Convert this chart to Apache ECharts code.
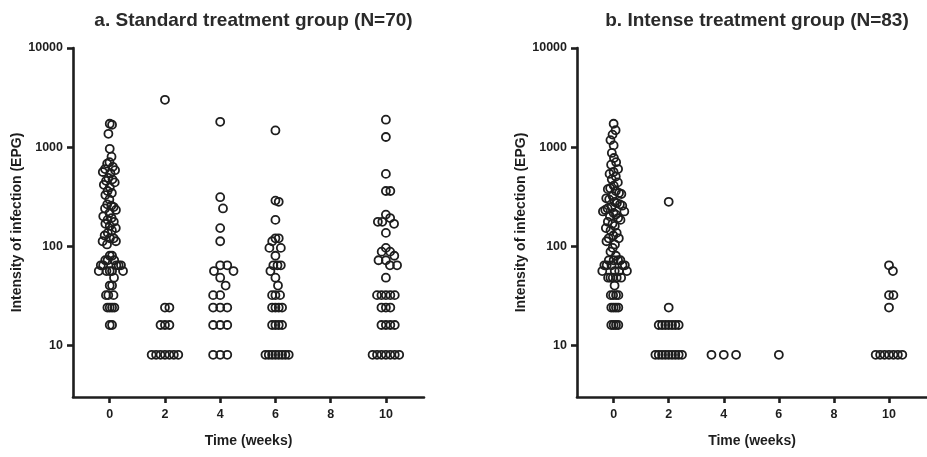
<!DOCTYPE html>
<html>
<head>
<meta charset="utf-8">
<script src="https://cdn.jsdelivr.net/npm/echarts@6/dist/echarts.min.js"></script>
<style>
  html, body { margin: 0; padding: 0; background: #fff; }
  #chart { width: 927px; height: 457px; }
</style>
</head>
<body>
<div id="chart"></div>
<script>
// Follow-up visits (weeks) and y-axis tick values
const weeks = [0, 2, 4, 6, 8, 10];
const yTicks = [10, 100, 1000, 10000];

const titleStandard = 'a. Standard treatment group (N=70)';
const titleIntense = 'b. Intense treatment group (N=83)';
const xName = 'Time (weeks)';
const yName = 'Intensity of infection (EPG)';

// Standard treatment group: eggs per gram of stool, one entry per positive participant
const stdWeek0 = [
  1720, 1680, 1360, 960, 800, 704, 680, 632, 600, 584, 560, 544,
  488, 472, 456, 440, 416, 392, 360, 344, 328, 296, 264, 256, 248, 240, 232,
  216, 200, 192, 184, 176, 168, 160, 152, 144, 136, 128, 120, 120, 112, 112, 104,
  80, 80, 72, 72, 72, 64, 64, 64, 64, 64, 56, 56, 56, 56, 56, 48, 40, 40,
  32, 32, 32, 24, 24, 24, 24, 16, 16
];
const stdWeek2 = [3000, 24, 24, 16, 16, 16, 8, 8, 8, 8, 8, 8, 8];
const stdWeek4 = [1800, 312, 240, 152, 112, 64, 64, 56, 56, 48, 40, 32, 32,
  24, 24, 24, 16, 16, 16, 8, 8, 8];
const stdWeek6 = [1472, 288, 280, 184, 120, 120, 112, 96, 96, 80, 64, 64, 64, 56, 48, 40,
  32, 32, 32, 24, 24, 24, 24, 16, 16, 16, 16, 8, 8, 8, 8, 8, 8, 8, 8];
const stdWeek8 = [];
const stdWeek10 = [1888, 1264, 536, 360, 360, 208, 192, 176, 176, 168, 136, 96, 88, 88, 80,
  72, 72, 64, 64, 48, 32, 32, 32, 32, 32, 24, 24, 24, 16, 16, 16, 16, 8, 8, 8, 8, 8, 8, 8];

// Intense treatment group
const intWeek0 = [
  1720, 1480, 1336, 1176, 1040, 872, 776, 704, 664, 600, 560, 536, 504, 472, 440,
  408, 384, 376, 360, 344, 336, 320, 304, 296, 280, 272, 264, 256, 248, 240,
  232, 224, 224, 216, 208, 200, 192, 184, 176, 168, 160, 152, 144, 136, 128,
  120, 120, 112, 104,
  96, 88, 80, 72, 72, 72, 72, 64, 64, 64, 64, 64, 56, 56, 56, 56,
  48, 48, 48, 48, 48, 40, 32, 32, 32, 32, 24, 24, 24, 24, 16, 16, 16, 16
];
const intWeek2 = [280, 24, 16, 16, 16, 16, 16, 16, 16, 8, 8, 8, 8, 8, 8, 8, 8, 8];
const intWeek4 = [8, 8, 8];
const intWeek6 = [8];
const intWeek8 = [];
const intWeek10 = [64, 56, 32, 32, 24, 8, 8, 8, 8, 8, 8, 8];

const stdGroups = [stdWeek0, stdWeek2, stdWeek4, stdWeek6, stdWeek8, stdWeek10];
const intGroups = [intWeek0, intWeek2, intWeek4, intWeek6, intWeek8, intWeek10];

// Plot geometry
const X_MIN = -1.33, X_MAX = 11.38;
const Y_MIN = 3, Y_MAX = 10000;
const GRID_TOP = 48, GRID_H = 349;
const GRIDS = [
  { left: 73, top: GRID_TOP, width: 351, height: GRID_H },
  { left: 577, top: GRID_TOP, width: 350, height: GRID_H }
];
const INK = '#1e1e1e';
const FONT = '"Liberation Sans", Arial, sans-serif';

// Beeswarm layout in pixel space: each point takes the free slot nearest the
// column centre, then the column is squeezed to a fixed maximum half-width.
const DOT = 12.3;     // spacing between neighbouring dots before squeezing
const HALF_W = 13.3;  // maximum half-width of a column, px
function swarmOffsets(values, pxPerDecade) {
  const pts = values.map(v => ({ v, y: Math.log10(v) * pxPerDecade, x: 0 }));
  const order = pts.slice().sort((a, b) => b.v - a.v);
  const placed = [];
  for (const p of order) {
    const cands = [0];
    for (const q of placed) {
      const dy = Math.abs(p.y - q.y);
      if (dy < DOT) {
        const dx = Math.sqrt(DOT * DOT - dy * dy);
        cands.push(q.x + dx, q.x - dx);
      }
    }
    cands.sort((a, b) => (Math.abs(a) - Math.abs(b)) || (b - a));
    for (const c of cands) {
      const ok = placed.every(q => (c - q.x) ** 2 + (p.y - q.y) ** 2 >= DOT * DOT - 1e-6);
      if (ok) { p.x = c; break; }
    }
    placed.push(p);
  }
  const maxAbs = Math.max(0, ...pts.map(p => Math.abs(p.x)));
  const k = maxAbs > HALF_W ? HALF_W / maxAbs : 1;
  return pts.map(p => p.x * k);
}

function buildData(groups, grid) {
  const pxPerDecade = grid.height / (Math.log10(Y_MAX) - Math.log10(Y_MIN));
  const pxPerWeek = grid.width / (X_MAX - X_MIN);
  const data = [];
  groups.forEach((vals, i) => {
    if (!vals.length) return;
    const off = swarmOffsets(vals, pxPerDecade);
    vals.forEach((v, j) => data.push([weeks[i] + off[j] / pxPerWeek, v]));
  });
  return data;
}

const axisLine = { show: true, onZero: false, lineStyle: { color: INK, width: 2.6 } };
const axisTick = (vals) => ({ show: true, length: 6, customValues: vals, lineStyle: { color: INK, width: 2.6 } });
const tickLabel = (vals, margin) => ({
  customValues: vals, margin, color: INK, fontFamily: FONT, fontWeight: 'bold', fontSize: 12.5,
  formatter: (v) => String(Math.round(v))
});
const nameStyle = { color: INK, fontFamily: FONT, fontWeight: 'bold', fontSize: 14 };

function xAxis(gridIndex) {
  return {
    type: 'value', gridIndex, min: X_MIN, max: X_MAX,
    name: xName, nameLocation: 'middle', nameGap: 37, nameTextStyle: nameStyle,
    axisLine, axisTick: axisTick(weeks), axisLabel: tickLabel(weeks, 11),
    splitLine: { show: false }, minorTick: { show: false }
  };
}
function yAxis(gridIndex) {
  return {
    type: 'log', logBase: 10, gridIndex, min: Y_MIN, max: Y_MAX,
    name: yName, nameLocation: 'middle', nameGap: 49, nameRotate: 90, nameTextStyle: nameStyle,
    axisLine, axisTick: axisTick(yTicks), axisLabel: tickLabel(yTicks, 10),
    splitLine: { show: false }, minorTick: { show: false }
  };
}

function scatter(idx, data) {
  return {
    type: 'scatter', xAxisIndex: idx, yAxisIndex: idx, data,
    symbol: 'circle', symbolSize: 8,
    itemStyle: { color: 'rgba(0,0,0,0)', borderColor: INK, borderWidth: 1.8, opacity: 1 },
    emphasis: { disabled: true }
  };
}

const titleStyle = { color: '#2a2a2a', fontFamily: FONT, fontWeight: 'bold', fontSize: 19 };

const chart = echarts.init(document.getElementById('chart'), null, { renderer: 'canvas' });
chart.setOption({
  animation: false,
  backgroundColor: '#ffffff',
  title: [
    { text: titleStandard, left: GRIDS[0].left + GRIDS[0].width / 2, top: 6, textAlign: 'center', textStyle: titleStyle },
    { text: titleIntense, left: GRIDS[1].left + GRIDS[1].width / 2, top: 6, textAlign: 'center', textStyle: titleStyle }
  ],
  grid: GRIDS.map(g => Object.assign({ containLabel: false }, g)),
  xAxis: [xAxis(0), xAxis(1)],
  yAxis: [yAxis(0), yAxis(1)],
  series: [
    scatter(0, buildData(stdGroups, GRIDS[0])),
    scatter(1, buildData(intGroups, GRIDS[1]))
  ]
});
</script>
</body>
</html>
